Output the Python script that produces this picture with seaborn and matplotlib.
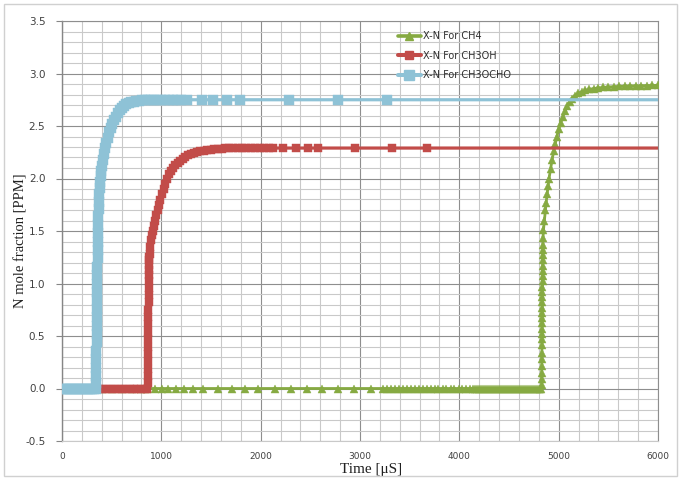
import numpy as np
import pandas as pd
import matplotlib
matplotlib.use("Agg")
import matplotlib.pyplot as plt
from matplotlib.lines import Line2D
from matplotlib.patches import Rectangle
from matplotlib.ticker import MultipleLocator
import seaborn as sns

# ---- data: time [uS] and N mole fraction [PPM] per fuel ----
series_labels = ["X-N For CH4", "X-N For CH3OH", "X-N For CH3OCHO"]

t_ch4 = [0, 100, 200, 300, 400, 500, 600, 700, 800, 860,
         937, 1004, 1071, 1148, 1229, 1316, 1423, 1574, 1709, 1840,
         1970, 2140, 2305, 2464, 2620, 2780, 2944, 3109,
         3233, 3270, 3310, 3352, 3390, 3431, 3470, 3512, 3550, 3592,
         3630, 3672, 3710, 3752, 3790, 3831, 3870, 3912, 3950, 3992,
         4030, 4072, 4110, 4139, 4160, 4180, 4200, 4220, 4240, 4260,
         4280, 4300, 4320, 4340, 4360, 4380, 4400, 4420, 4440, 4460,
         4480, 4500, 4520, 4540, 4560, 4580, 4600, 4620, 4640, 4660,
         4680, 4700, 4720, 4740, 4760, 4780, 4800, 4814, 4822,
         4828, 4829, 4830, 4830, 4831, 4831, 4832, 4832,
         4833, 4833, 4834, 4834, 4835, 4835, 4836, 4836, 4837, 4837,
         4838, 4838, 4839, 4839, 4840, 4840, 4841, 4841, 4842,
         4847, 4856, 4866, 4874, 4884, 4893, 4903, 4918, 4934, 4950,
         4965, 4982, 5000, 5020, 5042, 5063, 5085, 5110, 5135, 5165,
         5195, 5230, 5270, 5310, 5355, 5400, 5450, 5500, 5555, 5610,
         5665, 5720, 5775, 5830, 5885, 5940, 6000]
v_ch4 = [0, 0, 0, 0, 0, 0, 0, 0, 0, 0,
         0, 0, 0, 0, 0, 0, 0, 0, 0, 0,
         0, 0, 0, 0, 0, 0, 0, 0,
         0, 0, 0, 0, 0, 0, 0, 0, 0, 0,
         0, 0, 0, 0, 0, 0, 0, 0, 0, 0,
         0, 0, 0, 0, 0, 0, 0, 0, 0, 0,
         0, 0, 0, 0, 0, 0, 0, 0, 0, 0,
         0, 0, 0, 0, 0, 0, 0, 0, 0, 0,
         0, 0, 0, 0, 0, 0, 0, 0, 0,
         0.03, 0.09, 0.15, 0.21, 0.28, 0.34, 0.41, 0.47,
         0.52, 0.57, 0.62, 0.67, 0.72, 0.77, 0.82, 0.87, 0.92, 0.97,
         1.02, 1.07, 1.12, 1.17, 1.22, 1.27, 1.32, 1.37, 1.43,
         1.51, 1.60, 1.70, 1.77, 1.85, 1.93, 2.00, 2.09, 2.18, 2.26,
         2.33, 2.40, 2.47, 2.53, 2.59, 2.64, 2.69, 2.73, 2.76, 2.79,
         2.81, 2.825, 2.84, 2.85, 2.857, 2.863, 2.868, 2.872, 2.875, 2.878,
         2.88, 2.882, 2.883, 2.884, 2.885, 2.886, 2.887]

t_ch3oh = [0, 40, 80, 120, 160, 200, 240, 280, 320, 360,
           400, 440, 480, 520, 560, 600, 640, 680, 720, 760,
           800, 840, 860,
           865, 866, 866, 867, 867, 868, 868, 869, 869, 870,
           870, 871, 871, 872, 872, 873, 874, 875, 877, 879,
           882, 888, 896, 905,
           915, 926, 938, 950, 963, 977, 991, 1006, 1022, 1039,
           1057, 1076, 1096, 1118, 1141, 1165, 1190, 1216, 1243, 1271,
           1300, 1330, 1361, 1393, 1426, 1460, 1495, 1531, 1568, 1606,
           1645, 1685, 1726, 1768, 1811, 1855, 1900, 1945, 1990, 2035,
           2080, 2125, 2226, 2357, 2477, 2578, 2951, 3323, 3676, 6500]
v_ch3oh = [0, 0, 0, 0, 0, 0, 0, 0, 0, 0,
           0, 0, 0, 0, 0, 0, 0, 0, 0, 0,
           0, 0, 0,
           0.05, 0.12, 0.19, 0.26, 0.33, 0.40, 0.47, 0.54, 0.61, 0.68,
           0.75, 0.82, 0.89, 0.96, 1.02, 1.08, 1.13, 1.18, 1.22, 1.25,
           1.28, 1.35, 1.41, 1.46,
           1.50, 1.55, 1.60, 1.65, 1.70, 1.75, 1.80, 1.85, 1.90, 1.95,
           2.00, 2.04, 2.07, 2.10, 2.125, 2.15, 2.17, 2.19, 2.205, 2.22,
           2.232, 2.243, 2.252, 2.26, 2.266, 2.271, 2.275, 2.279, 2.282, 2.285,
           2.287, 2.288, 2.289, 2.29, 2.29, 2.29, 2.29, 2.29, 2.29, 2.29,
           2.29, 2.29, 2.29, 2.29, 2.29, 2.29, 2.29, 2.29, 2.29, 2.29]

t_ch3ocho = [0, 20, 40, 60, 80, 100, 120, 140, 160, 180,
             200, 220, 240, 260, 280, 300, 320, 340,
             343, 344, 345, 346, 347, 348, 349, 350, 351, 352,
             353, 354, 355, 356, 357, 358, 359, 360, 362, 364,
             366, 368, 371, 374, 378, 383, 388, 394,
             400, 410, 421, 433, 446, 460, 475,
             490, 506, 523, 541, 560, 580, 601, 623, 646, 670,
             695, 721, 748, 776, 805, 835, 866, 898, 931, 965,
             1000, 1040, 1080, 1120, 1160, 1200, 1259, 1410, 1521, 1662,
             1793, 2286, 2779, 3273, 6500]
v_ch3ocho = [0, 0, 0, 0, 0, 0, 0, 0, 0, 0,
             0, 0, 0, 0, 0, 0, 0, 0,
             0.05, 0.12, 0.20, 0.28, 0.36, 0.44, 0.52, 0.60, 0.68, 0.76,
             0.84, 0.92, 1.00, 1.08, 1.16, 1.24, 1.32, 1.40, 1.48, 1.56,
             1.64, 1.71, 1.78, 1.85, 1.91, 1.97, 2.02, 2.07,
             2.12, 2.18, 2.23, 2.29, 2.34, 2.39, 2.44,
             2.48, 2.52, 2.56, 2.59, 2.62, 2.65, 2.67, 2.69, 2.705, 2.715,
             2.725, 2.732, 2.737, 2.741, 2.744, 2.746, 2.748, 2.749, 2.75, 2.75,
             2.75, 2.75, 2.75, 2.75, 2.75, 2.75, 2.75, 2.75, 2.75, 2.75,
             2.75, 2.75, 2.75, 2.75, 2.75]

x_ticks = [0, 1000, 2000, 3000, 4000, 5000, 6000]
y_ticks = [-0.5, 0.0, 0.5, 1.0, 1.5, 2.0, 2.5, 3.0, 3.5]

# ---- styling ----
colors = ["#86AA42", "#C24C49", "#8EC2D6"]
markers = ["^", "s", "s"]
msizes = [6.3, 6.4, 6.9]
lwidths = [2.0, 2.3, 2.3]

sns.set_theme(style="white")
plt.rcParams["font.family"] = ["DejaVu Sans"]

fig = plt.figure(figsize=(6.81, 4.80), dpi=100)
ax = fig.add_axes([62 / 681, 1 - 441 / 480, 596 / 681, 420 / 480])

frames = [
    pd.DataFrame({"time": t_ch4, "frac": v_ch4}),
    pd.DataFrame({"time": t_ch3oh, "frac": v_ch3oh}),
    pd.DataFrame({"time": t_ch3ocho, "frac": v_ch3ocho}),
]
for i, df in enumerate(frames):
    sns.lineplot(data=df, x="time", y="frac", estimator=None, sort=False,
                 color=colors[i], linewidth=lwidths[i], marker=markers[i],
                 markersize=msizes[i], markeredgewidth=0.3,
                 markeredgecolor=colors[i], ax=ax, zorder=3 + i,
                 legend=False)

ax.set_xlim(0, 6000)
ax.set_ylim(-0.5, 3.5)
ax.set_xticks(x_ticks)
ax.set_xticklabels([str(v) for v in x_ticks])
ax.set_yticks(y_ticks)
ax.set_yticklabels([f"{v:.1f}" for v in y_ticks])
ax.xaxis.set_minor_locator(MultipleLocator(200))
ax.yaxis.set_minor_locator(MultipleLocator(0.1))

ax.grid(which="major", color="#8E8E8E", linewidth=0.8, zorder=0)
ax.grid(which="minor", color="#C9C9C9", linewidth=0.8, zorder=0)
ax.set_axisbelow(True)

for side in ["top", "right"]:
    ax.spines[side].set_color("#8E8E8E")
    ax.spines[side].set_linewidth(0.8)
ax.spines["left"].set_color("#868686")
ax.spines["bottom"].set_color("#C9C9C9")
ax.spines["left"].set_linewidth(1.0)
ax.spines["bottom"].set_linewidth(0.8)

ax.tick_params(axis="y", which="major", left=True, length=4, width=0.8,
               color="#868686", pad=8, labelsize=7.5, labelcolor="#404040")
ax.tick_params(axis="x", which="major", bottom=False, length=0, pad=8,
               labelsize=6.5, labelcolor="#404040")
ax.tick_params(which="minor", left=False, bottom=False)

ax.set_xlabel("Time [μS]", family="Liberation Serif", fontsize=11,
              color="#202020")
ax.set_ylabel("N mole fraction [PPM]", family="Liberation Serif",
              fontsize=10.5, color="#202020")
ax.xaxis.set_label_coords(0.518, -0.052)
ax.yaxis.set_label_coords(-0.058, 0.477)

handles = [
    Line2D([0], [0], color=colors[i], linewidth=lwidths[i] + 0.6,
           marker=markers[i], markersize=msizes[i],
           markeredgecolor=colors[i])
    for i in range(3)
]
leg = ax.legend(handles, series_labels, loc="upper left",
                bbox_to_anchor=(0.563, 0.976), frameon=False,
                fontsize=7, handlelength=2.4, handletextpad=0.25,
                labelspacing=0.98, borderpad=0, borderaxespad=0,
                numpoints=1)
for txt in leg.get_texts():
    txt.set_color("#303030")

fig.patches.append(Rectangle((4 / 681, 4 / 480), 673 / 681, 472 / 480,
                             transform=fig.transFigure, fill=False,
                             edgecolor="#D0D0D0", linewidth=1.0))

fig.savefig("out.png", dpi=100, facecolor="white")
